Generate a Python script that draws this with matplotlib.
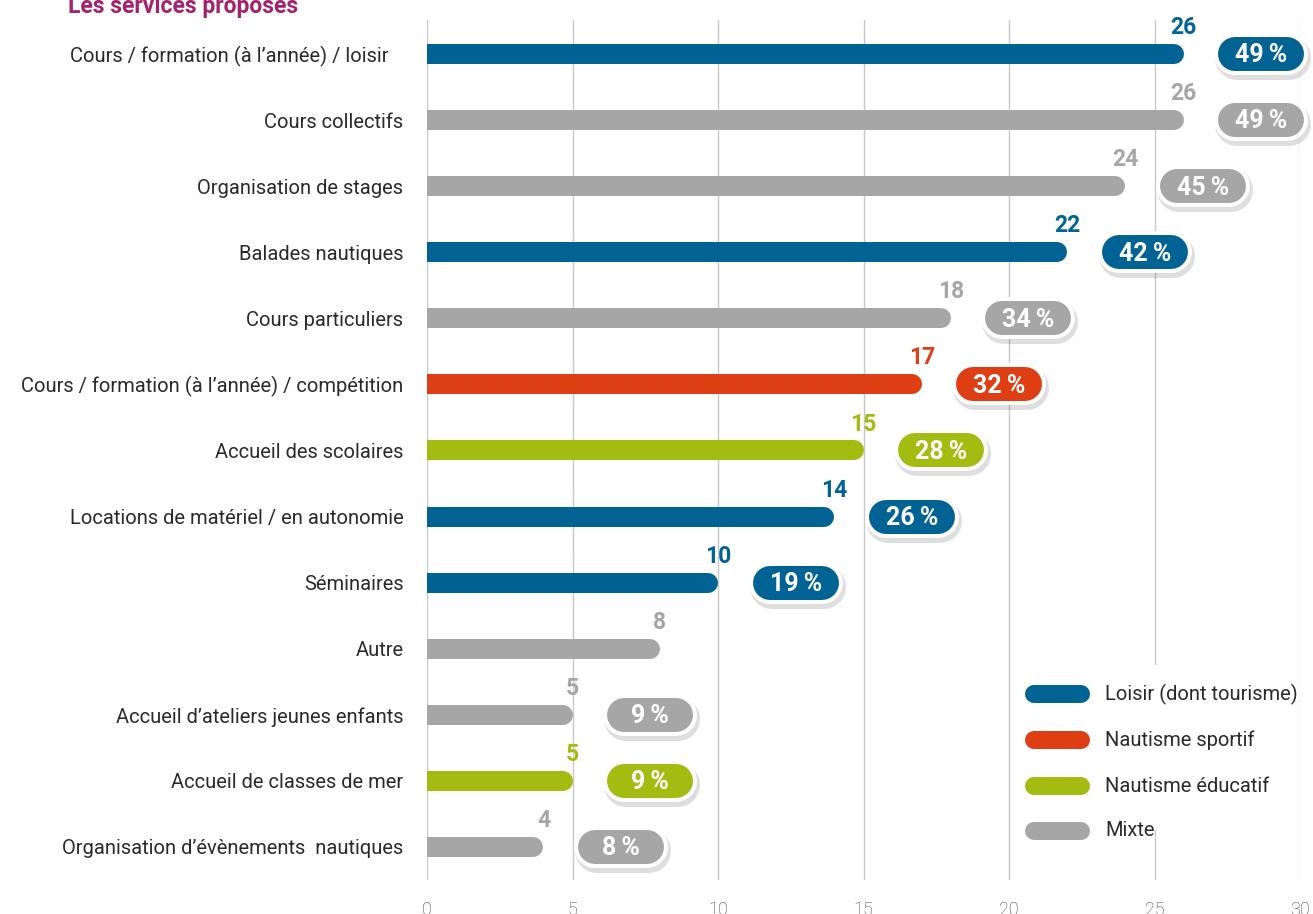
import numpy as np
import matplotlib
matplotlib.use("Agg")
import matplotlib.pyplot as plt
import matplotlib.transforms as mtransforms
from matplotlib.patches import Rectangle

plt.rcParams['font.family'] = ['Roboto', 'DejaVu Sans']

# data, top to bottom
services = ["Cours / formation (à l’année) / loisir   ",
            "Cours collectifs",
            "Organisation de stages",
            "Balades nautiques",
            "Cours particuliers",
            "Cours / formation (à l’année) / compétition",
            "Accueil des scolaires",
            "Locations de matériel / en autonomie",
            "Séminaires",
            "Autre",
            "Accueil d’ateliers jeunes enfants",
            "Accueil de classes de mer",
            "Organisation d’évènements  nautiques"]
counts = [26, 26, 24, 22, 18, 17, 15, 14, 10, 8, 5, 5, 4]
percents = [49, 49, 45, 42, 34, 32, 28, 26, 19, None, 9, 9, 8]
types = ["L", "M", "M", "L", "M", "S", "E", "L", "L", "M", "M", "E", "M"]

type_names = {"L": "Loisir (dont tourisme)", "S": "Nautisme sportif",
              "E": "Nautisme éducatif", "M": "Mixte"}
type_cols = {"L": "#006394", "S": "#DD3E13", "E": "#A4BC12", "M": "#A6A6A6"}

W, H = 1313, 914
fig = plt.figure(figsize=(W / 100, H / 100), dpi=100)
ax = fig.add_axes([427 / W, 1 - 880 / H, 873 / W, 860 / H])

ax.set_xlim(0, 30)
ax.set_ylim(12.5, -0.515)
for s in ax.spines.values():
    s.set_visible(False)
ax.set_xticks(range(0, 31, 5))
ax.tick_params(axis='x', length=0, pad=15, labelsize=13, labelcolor="#444444")
ax.tick_params(axis='y', length=0, pad=17, labelsize=14.5, labelcolor="#2a2a2a")
ax.set_yticks(range(len(services)))
ax.set_yticklabels(services)
for lab in ax.get_xticklabels():
    lab.set_fontweight('light')
ax.grid(axis='x', color="#C8C8C8", lw=1)
ax.set_axisbelow(True)

px = 72 / 100  # pixels to points
unit = 873 / 30  # pixels per x unit
bar_px = 20
pill_px = 34
pill_len = (86 - pill_px) / unit
shadow = mtransforms.offset_copy(ax.transData, fig=fig, x=2, y=-4, units='dots')

for i, (c, p, t) in enumerate(zip(counts, percents, types)):
    col = type_cols[t]
    r = bar_px / 2 / unit
    ax.plot([-1, c - r], [i, i], color=col, lw=bar_px * px,
            solid_capstyle='round', zorder=3)
    ax.text(c, i - 0.40, str(c), color=col, fontsize=16.5, fontweight='bold',
            ha='center', va='center', zorder=4)
    if p is None:
        continue
    cx = c + 2.67
    xs = [cx - pill_len / 2, cx + pill_len / 2]
    ax.plot(xs, [i, i], color="#000000", alpha=0.13, lw=(pill_px + 10) * px,
            solid_capstyle='round', transform=shadow, zorder=4, clip_on=False)
    ax.plot(xs, [i, i], color="white", lw=(pill_px + 8) * px,
            solid_capstyle='round', zorder=5, clip_on=False)
    ax.plot(xs, [i, i], color=col, lw=pill_px * px,
            solid_capstyle='round', zorder=6, clip_on=False)
    ax.text(cx, i + 0.02, f"{p}\u2009%", color="white", fontsize=18,
            fontweight='bold', ha='center', va='center', zorder=7)

# legend (white box hides the grid behind it)
legend_box = Rectangle(((1016 - 427) / 873, (880 - 830) / 860), (1297 - 1016) / 873,
                       (830 - 665) / 860, transform=ax.transAxes,
                       facecolor="white", edgecolor="none", zorder=2)
ax.add_patch(legend_box)
leg_y = [694, 740, 786, 831]
for k, y in zip(["L", "S", "E", "M"], leg_y):
    yy = 1 - y / H
    fig.lines.append(plt.Line2D([(1025 + 9) / W, (1090 - 9) / W], [yy, yy],
                                transform=fig.transFigure, color=type_cols[k],
                                lw=18 * px, solid_capstyle='round', zorder=8))
    fig.text(1105 / W, yy, type_names[k], fontsize=14.5,
             color="#2a2a2a", ha='left', va='center', zorder=8)

fig.text(68 / W, 1 - 7 / H, "Les services proposés", color="#A3226B",
         fontsize=16.5, fontweight='bold', ha='left', va='center')

fig.savefig("out.png", dpi=100)
